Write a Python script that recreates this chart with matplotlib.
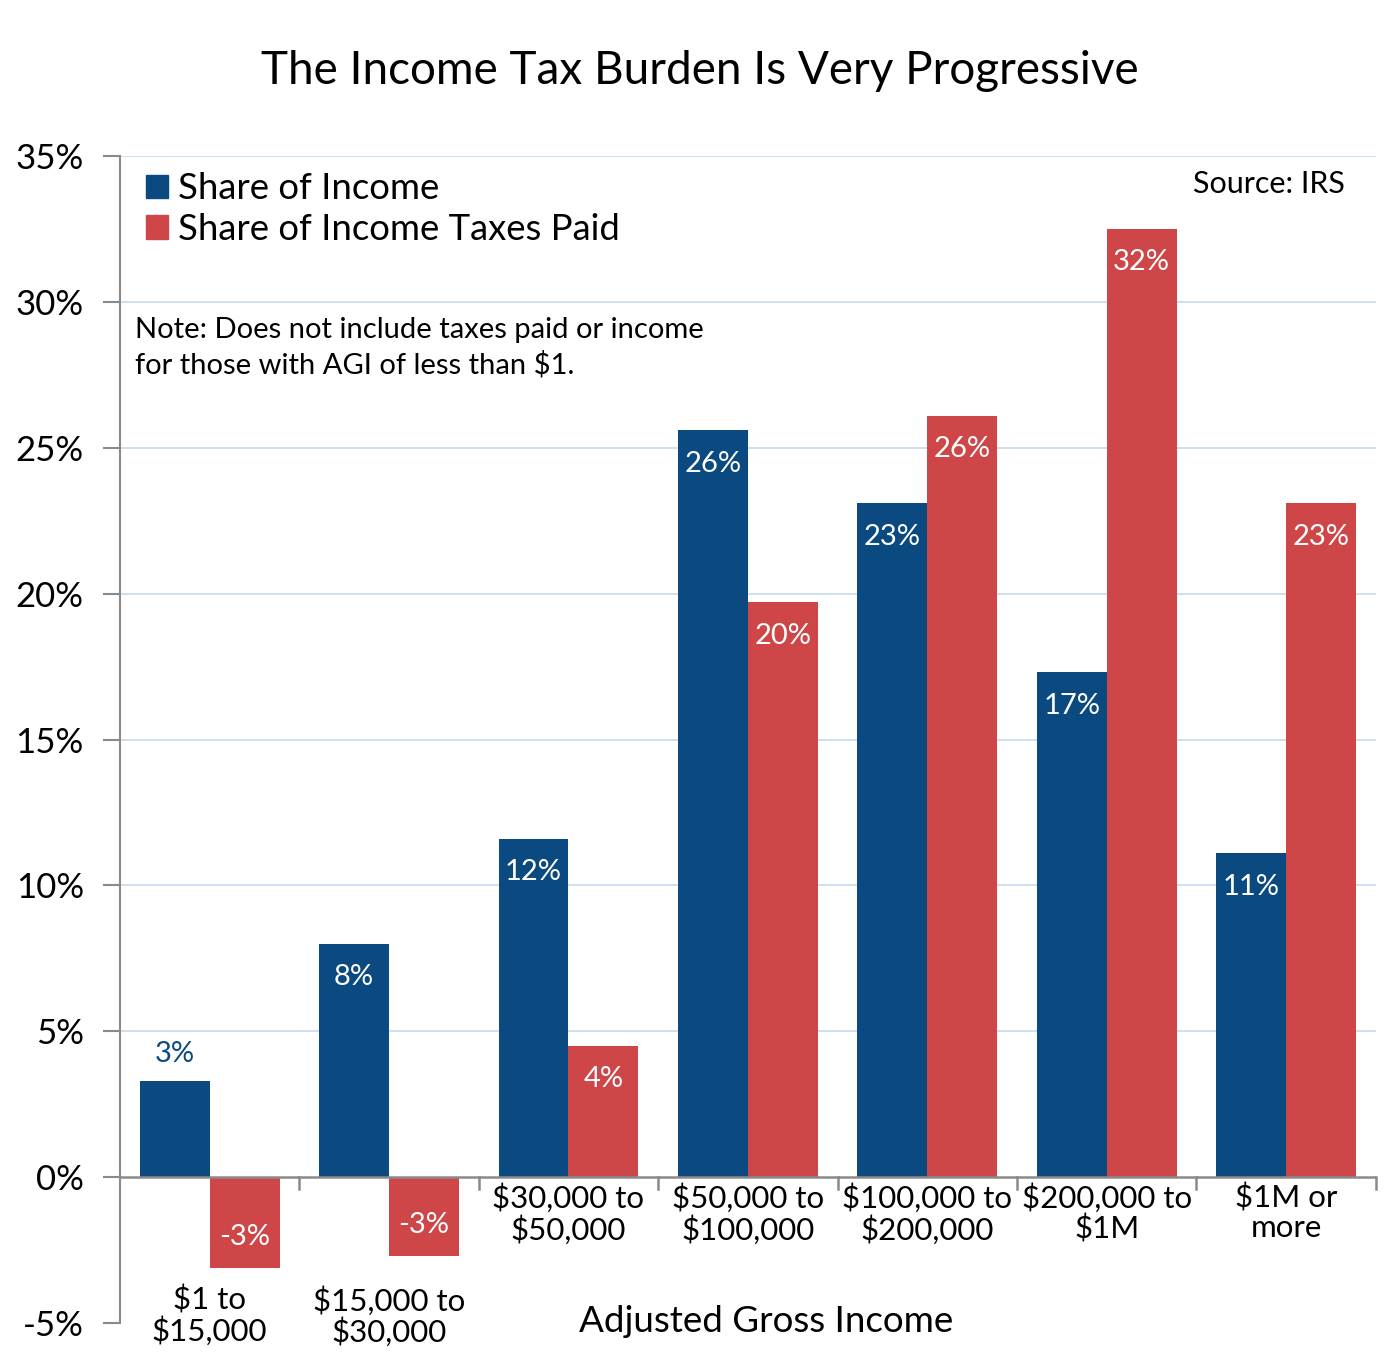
"""Share of income vs share of income taxes paid by AGI bracket."""

import matplotlib

matplotlib.use("Agg")
import matplotlib.pyplot as plt
import numpy as np
from matplotlib.patches import Patch

brackets = [
    "$1 to\n$15,000",
    "$15,000 to\n$30,000",
    "$30,000 to\n$50,000",
    "$50,000 to\n$100,000",
    "$100,000 to\n$200,000",
    "$200,000 to\n$1M",
    "$1M or\nmore",
]
share_income = [3.3, 8.0, 11.6, 25.6, 23.1, 17.3, 11.1]
share_taxes = [-3.1, -2.7, 4.5, 19.7, 26.1, 32.5, 23.1]
income_labels = ["3%", "8%", "12%", "26%", "23%", "17%", "11%"]
tax_labels = ["-3%", "-3%", "4%", "20%", "26%", "32%", "23%"]

BLUE = "#0b4a80"
RED = "#cf4649"
GRID = "#c9dcef"
AXIS = "#8a8a8a"

plt.rcParams["font.family"] = ["Lato", "DejaVu Sans"]

fig = plt.figure(figsize=(14, 13.69), dpi=100)
ax = fig.add_axes([0.0857, 0.0336, 0.897, 0.8524])

x = np.arange(len(brackets))
width = 0.39
bars_inc = ax.bar(x - width / 2, share_income, width, color=BLUE, zorder=3)
bars_tax = ax.bar(x + width / 2, share_taxes, width, color=RED, zorder=3)

ax.set_xlim(-0.5, len(brackets) - 0.5)
ax.set_ylim(-5, 35)
ax.set_yticks(range(-5, 36, 5))
ax.set_yticklabels([f"{v}%" for v in range(-5, 36, 5)], fontsize=25)
ax.tick_params(axis="y", length=12, color=AXIS, width=1.5, pad=14)
ax.set_xticks([])

for v in range(5, 36, 5):
    ax.axhline(v, color=GRID, linewidth=1.3, zorder=1)
ax.axhline(0, color=AXIS, linewidth=1.8, zorder=4)
for b in np.arange(0.5, len(brackets), 1.0):
    ax.plot([b, b], [0, -0.4], color=AXIS, linewidth=1.8, zorder=4, clip_on=False)

for side in ["top", "right", "bottom"]:
    ax.spines[side].set_visible(False)
ax.spines["left"].set_color(AXIS)
ax.spines["left"].set_linewidth(1.5)

# value labels
for bar, lab in zip(bars_inc, income_labels):
    h = bar.get_height()
    cx = bar.get_x() + bar.get_width() / 2
    if h < 5:
        ax.annotate(lab, (cx, h), xytext=(0, 10), textcoords="offset points",
                    ha="center", va="bottom", fontsize=21, color=BLUE, zorder=5)
    else:
        ax.annotate(lab, (cx, h), xytext=(0, -24), textcoords="offset points",
                    ha="center", va="center", fontsize=21, color="white", zorder=5)
for bar, lab in zip(bars_tax, tax_labels):
    h = bar.get_height()
    cx = bar.get_x() + bar.get_width() / 2
    if h < 0:
        ax.annotate(lab, (cx, h), xytext=(0, 22), textcoords="offset points",
                    ha="center", va="center", fontsize=21, color="white", zorder=5)
    else:
        ax.annotate(lab, (cx, h), xytext=(0, -24), textcoords="offset points",
                    ha="center", va="center", fontsize=21, color="white", zorder=5)

# category labels: below the negative bars for the first two brackets
for i, lab in enumerate(brackets):
    y = -3.72 if share_taxes[i] < 0 else -0.22
    ax.text(i, y, lab, ha="center", va="top", fontsize=22.5, linespacing=1.07)

ax.text(3.1, -4.95, "Adjusted Gross Income", ha="center", va="center", fontsize=26.5)

handles = [Patch(color=BLUE, label="Share of Income"),
           Patch(color=RED, label="Share of Income Taxes Paid")]
ax.legend(handles=handles, loc="upper left", bbox_to_anchor=(0.0, 1.008),
          frameon=False, fontsize=26.3, handlelength=0.62, handleheight=0.62,
          handletextpad=0.28, labelspacing=0.2, borderaxespad=0.3)

ax.text(0.975, 0.988, "Source: IRS", transform=ax.transAxes, ha="right",
        va="top", fontsize=22)
ax.text(0.012, 0.862, "Note: Does not include taxes paid or income\n"
        "for those with AGI of less than $1.", transform=ax.transAxes,
        ha="left", va="top", fontsize=21, linespacing=1.35)

fig.text(0.5, 0.948, "The Income Tax Burden Is Very Progressive", ha="center",
         va="center", fontsize=33)

fig.savefig("out.png", dpi=100)
